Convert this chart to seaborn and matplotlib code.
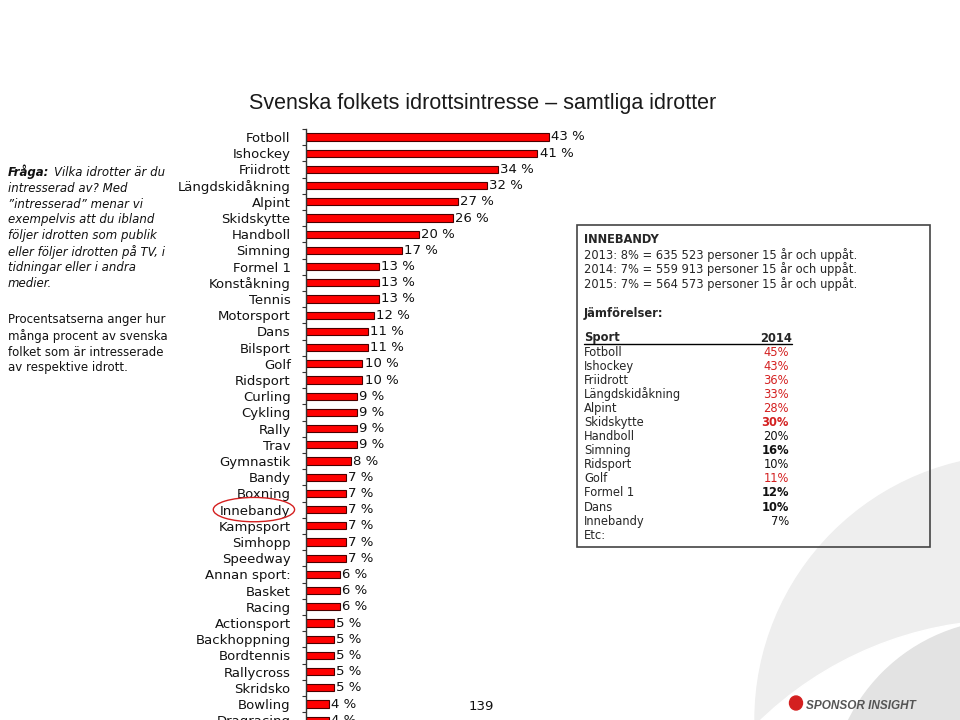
import numpy as np
import matplotlib
matplotlib.use("Agg")
import matplotlib.pyplot as plt
from matplotlib.patches import Ellipse, Circle, Rectangle
import seaborn as sns

# Data
sports = ["Fotboll", "Ishockey", "Friidrott", "Längdskidåkning", "Alpint", "Skidskytte",
          "Handboll", "Simning", "Formel 1", "Konståkning", "Tennis", "Motorsport", "Dans",
          "Bilsport", "Golf", "Ridsport", "Curling", "Cykling", "Rally", "Trav", "Gymnastik",
          "Bandy", "Boxning", "Innebandy", "Kampsport", "Simhopp", "Speedway", "Annan sport:",
          "Basket", "Racing", "Actionsport", "Backhoppning", "Bordtennis", "Rallycross",
          "Skridsko", "Bowling", "Dragracing"]
values = [43, 41, 34, 32, 27, 26, 20, 17, 13, 13, 13, 12, 11, 11, 10, 10, 9, 9, 9, 9, 8,
          7, 7, 7, 7, 7, 7, 6, 6, 6, 5, 5, 5, 5, 5, 4, 4]

table_sports = ["Fotboll", "Ishockey", "Friidrott", "Längdskidåkning", "Alpint", "Skidskytte",
                "Handboll", "Simning", "Ridsport", "Golf", "Formel 1", "Dans", "Innebandy"]
table_values = ["45%", "43%", "36%", "33%", "28%", "30%", "20%", "16%", "10%", "11%",
                "12%", "10%", "7%"]
table_red = [True, True, True, True, True, True, False, False, False, True, False, False, False]
table_bold = [False, False, False, False, False, True, False, True, False, False, True, True, False]

innebandy_lines = ["2013: 8% = 635 523 personer 15 år och uppåt.",
                   "2014: 7% = 559 913 personer 15 år och uppåt.",
                   "2015: 7% = 564 573 personer 15 år och uppåt."]

question_lines = ["intresserad av? Med", "\u201dintresserad\u201d menar vi",
                  "exempelvis att du ibland", "följer idrotten som publik",
                  "eller följer idrotten på TV, i", "tidningar eller i andra", "medier."]
note_lines = ["Procentsatserna anger hur", "många procent av svenska",
              "folket som är intresserade", "av respektive idrott."]

sns.set_theme(style="white")
plt.rcParams["font.family"] = ["DejaVu Sans"]

W, H = 960, 720
fig = plt.figure(figsize=(9.6, 7.2), dpi=100)

def fx(px):
    return px / W

def fy(py):
    return 1 - py / H

def circ(cx, cy, r, color):
    # circle given in pixels, drawn in figure fraction coords
    fig.add_artist(Ellipse((fx(cx), fy(cy)), 2 * r / W, 2 * r / H, color=color, zorder=0))

# background swoosh
circ(1020, 720, 265, "#eeeeee")
circ(1010, 980, 360, "#ffffff")
circ(1010, 800, 180, "#e3e3e3")

# main bar chart
top_px, step = 128.9, 16.2
n = len(sports)
ax_top = fy(top_px)
ax_bot = fy(top_px + step * n)
ax = fig.add_axes([fx(306), ax_bot, fx(254), ax_top - ax_bot])
ax.set_facecolor("none")
sns.barplot(x=values, y=sports, orient="h", color="#ff0000", edgecolor="#4a0000",
            linewidth=0.8, width=0.45, saturation=1, ax=ax)
ax.set_xlim(0, 45)
ax.set_ylim(n - 0.5, -0.5)
ax.bar_label(ax.containers[0], labels=[f"{v} %" for v in values], padding=1.5,
             fontsize=9.5, color="#111111")
ax.set_xticks([])
ax.set_xlabel("")
ax.set_ylabel("")
for s in ["top", "right", "bottom"]:
    ax.spines[s].set_visible(False)
ax.spines["left"].set_color("#333333")
ax.spines["left"].set_linewidth(1.0)
ax.set_yticks(np.arange(-0.5, n, 1), minor=True)
ax.tick_params(axis="y", which="major", length=0, pad=11, labelsize=9.5, labelcolor="#111111")
ax.tick_params(axis="y", which="minor", length=3, width=0.8, color="#333333", left=True)

# circle around Innebandy
idx = sports.index("Innebandy")
ax.add_patch(Ellipse((-0.205, idx), 0.32, 1.5, transform=ax.get_yaxis_transform(),
                     fill=False, edgecolor="#d42020", linewidth=1.0, clip_on=False))

# title
fig.text(fx(483), fy(103), "Svenska folkets idrottsintresse \u2013 samtliga idrotter",
         ha="center", va="center", fontsize=15.5, family="Liberation Sans", color="#1a1a1a")

# left notes
fs_note = 8.5
t1 = fig.text(fx(8), fy(172), "Fråga:", fontsize=fs_note, style="italic", weight="bold",
              va="center", color="#111111")
ax.annotate("Vilka idrotter är du", xy=(1, 0.5), xycoords=t1, xytext=(3, 0),
            textcoords="offset points", fontsize=fs_note, style="italic", va="center",
            color="#111111", annotation_clip=False)
for i, line in enumerate(question_lines):
    fig.text(fx(8), fy(188 + 16 * i), line, fontsize=fs_note, style="italic",
             va="center", color="#111111")
for i, line in enumerate(note_lines):
    fig.text(fx(8), fy(320 + 16 * i), line, fontsize=fs_note, va="center", color="#111111")

# right box
fig.add_artist(Rectangle((fx(577), fy(547)), fx(930 - 577), (547 - 225) / H,
                         facecolor="none", edgecolor="#444444", linewidth=1.2, zorder=1))
fs_box = 8.3
fig.text(fx(584), fy(240), "INNEBANDY", fontsize=fs_box, weight="bold", va="center", zorder=2)
for i, line in enumerate(innebandy_lines):
    fig.text(fx(584), fy(255 + 14.5 * i), line, fontsize=fs_box, va="center", zorder=2)
fig.text(fx(584), fy(313), "Jämförelser:", fontsize=fs_box, weight="bold", va="center", zorder=2)
fig.text(fx(584), fy(338), "Sport", fontsize=fs_box, weight="bold", va="center", zorder=2)
fig.text(fx(792), fy(338), "2014", fontsize=fs_box, weight="bold", va="center", ha="right", zorder=2)
fig.add_artist(plt.Line2D([fx(584), fx(792)], [fy(344), fy(344)], color="black",
                          linewidth=1.0, zorder=2))
for i, (sp, val, red, bold) in enumerate(zip(table_sports, table_values, table_red, table_bold)):
    y = fy(352 + 14.1 * i)
    fig.text(fx(584), y, sp, fontsize=fs_box, va="center", zorder=2)
    fig.text(fx(789), y, val, fontsize=fs_box, va="center", ha="right", zorder=2,
             color="#d42020" if red else "#111111", weight="bold" if bold else "normal")
fig.text(fx(584), fy(352 + 14.1 * len(table_sports)), "Etc:", fontsize=fs_box, va="center", zorder=2)

# page number and logo
fig.text(fx(481), fy(706), "139", fontsize=9.5, ha="center", va="center", color="#111111")
fig.add_artist(Ellipse((fx(796), fy(703)), fx(13), 14 / H, color="#d42020", zorder=2))
fig.text(fx(806), fy(706), "SPONSOR INSIGHT", fontsize=8.5, style="italic", weight="bold",
         va="center", color="#555555", family="Liberation Sans", zorder=2)

fig.savefig("out.png", dpi=100)
